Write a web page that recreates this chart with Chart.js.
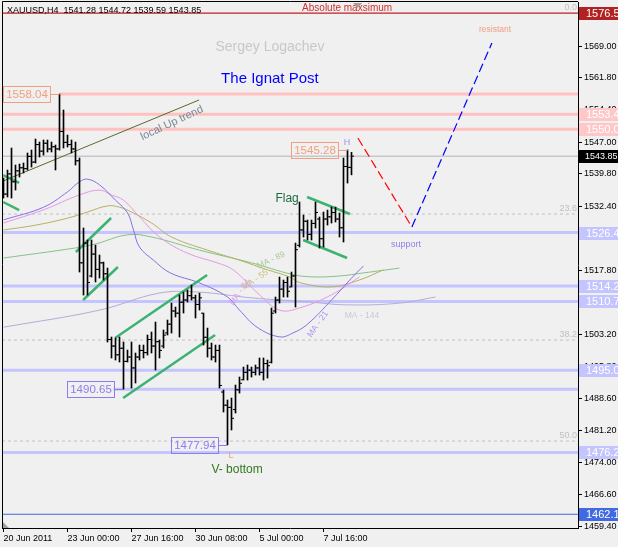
<!DOCTYPE html>
<html>
<head>
<meta charset="utf-8">
<script src="https://cdn.jsdelivr.net/npm/chart.js@4.4.1/dist/chart.umd.min.js"></script>
<style>
  html, body { margin: 0; padding: 0; background: #f0f0f0; overflow: hidden; }
</style>
</head>
<body>
<canvas id="chart" width="618" height="547"></canvas>
<script>
// XAUUSD H4 bars, one per 4 hours, index 0 = first visible bar
const barOpen = [
  1537.5, 1535.2, 1539.8, 1538.0, 1540.5, 1541.2, 1541.0, 1543.8, 1542.5, 1546.5,
  1545.0, 1546.8, 1545.5, 1546.0, 1545.5, 1549.5, 1547.0, 1546.5, 1545.5, 1542.8,
  1519.5, 1524.0, 1516.5, 1521.5, 1518.0, 1519.5, 1517.0, 1502.0, 1500.5, 1498.5,
  1500.0, 1497.0, 1498.0, 1495.5, 1498.0, 1499.5, 1499.0, 1502.0, 1500.5, 1501.5,
  1500.5, 1503.5, 1505.5, 1508.5, 1508.0, 1510.5, 1511.0, 1512.0, 1511.5, 1510.0,
  1508.0, 1502.5, 1500.0, 1498.0, 1499.5, 1490.0, 1487.0, 1486.5, 1486.0, 1490.5,
  1492.8, 1494.5, 1495.0, 1494.5, 1495.5, 1494.5, 1496.5, 1496.8, 1508.5, 1511.0,
  1513.5, 1515.0, 1514.0, 1516.5, 1523.5, 1527.0, 1529.0, 1526.0, 1528.5, 1529.5,
  1525.0, 1529.5, 1530.0, 1531.0, 1529.5, 1527.5, 1541.5, 1541.28
];
const barHigh = [
  1538.86, 1540.69, 1545.71, 1541.83, 1542.06, 1542.29, 1544.57, 1545.25, 1547.76, 1547.08,
  1547.54, 1547.54, 1547.08, 1546.40, 1558.04, 1554.39, 1548.68, 1547.54, 1547.08, 1543.43,
  1527.45, 1524.71, 1524.71, 1523.56, 1521.28, 1519.68, 1518.31, 1502.56, 1502.33, 1502.56,
  1501.42, 1499.59, 1501.42, 1498.91, 1500.73, 1500.73, 1503.02, 1503.70, 1505.98, 1501.87,
  1504.16, 1506.44, 1510.32, 1509.41, 1512.15, 1512.83, 1513.29, 1514.43, 1512.15, 1512.60,
  1508.04, 1504.61, 1501.19, 1500.73, 1500.73, 1490.46, 1488.18, 1488.63, 1491.60, 1493.43,
  1495.71, 1496.17, 1495.71, 1496.17, 1497.77, 1497.77, 1497.31, 1509.18, 1511.69, 1516.26,
  1515.57, 1516.26, 1517.40, 1524.02, 1533.38, 1530.41, 1529.27, 1529.27, 1533.38, 1529.96,
  1531.10, 1531.55, 1532.24, 1532.24, 1530.87, 1543.43, 1545.28, 1544.72
];
const barLow = [
  1534.29, 1534.52, 1534.29, 1536.12, 1539.09, 1540.00, 1540.69, 1541.37, 1542.29, 1543.66,
  1544.11, 1544.80, 1544.80, 1540.69, 1545.25, 1545.71, 1545.94, 1544.57, 1541.83, 1517.40,
  1512.15, 1512.15, 1516.26, 1515.12, 1516.03, 1515.57, 1501.42, 1497.77, 1497.31, 1496.85,
  1490.65, 1496.85, 1490.92, 1492.06, 1497.31, 1497.77, 1498.45, 1498.91, 1495.03, 1497.77,
  1500.05, 1503.02, 1503.47, 1507.13, 1502.56, 1508.04, 1510.55, 1511.01, 1506.90, 1508.72,
  1500.73, 1497.99, 1497.31, 1496.85, 1490.92, 1485.44, 1477.94, 1481.33, 1485.21, 1489.77,
  1492.74, 1492.74, 1493.43, 1493.88, 1493.88, 1492.74, 1493.20, 1496.62, 1508.04, 1510.32,
  1511.69, 1511.69, 1513.97, 1509.41, 1523.11, 1525.39, 1524.71, 1524.71, 1527.45, 1522.88,
  1523.11, 1528.13, 1528.59, 1528.82, 1525.39, 1524.25, 1537.72, 1539.59
];
const barClose = [
  1535.2, 1539.8, 1538.0, 1540.5, 1541.2, 1541.0, 1543.8, 1542.5, 1546.5, 1545.0,
  1546.8, 1545.5, 1546.0, 1545.5, 1549.5, 1547.0, 1546.5, 1545.5, 1542.8, 1519.5,
  1524.0, 1515.0, 1521.5, 1518.0, 1519.5, 1517.0, 1502.0, 1500.5, 1498.5, 1500.0,
  1497.0, 1498.0, 1495.5, 1498.0, 1499.5, 1499.0, 1502.0, 1500.5, 1501.5, 1499.5,
  1503.0, 1505.5, 1508.5, 1508.0, 1510.5, 1511.0, 1512.0, 1511.5, 1510.0, 1511.5,
  1502.5, 1500.0, 1498.0, 1499.5, 1491.5, 1487.0, 1486.5, 1484.0, 1490.5, 1492.0,
  1494.5, 1495.0, 1494.5, 1495.5, 1494.5, 1496.5, 1496.0, 1508.0, 1511.0, 1513.5,
  1515.0, 1513.0, 1516.5, 1522.5, 1527.0, 1529.0, 1526.0, 1528.5, 1531.0, 1525.0,
  1529.5, 1530.0, 1531.0, 1529.5, 1527.5, 1541.5, 1541.3, 1543.85
];

// time axis
const xTickIdx = [0, 16, 32, 48, 64, 80];
const xTickLabels = ['20 Jun 2011', '23 Jun 00:00', '27 Jun 16:00', '30 Jun 08:00', '5 Jul 00:00', '7 Jul 16:00'];
const xMin = -0.375, xMax = 143.625;

// price axis
const yTicks = [1569.00, 1561.80, 1554.40, 1547.00, 1539.80, 1532.40, 1525.20, 1517.80,
  1510.60, 1503.20, 1495.80, 1488.60, 1481.20, 1474.00, 1466.60, 1459.40];
const yMin = 1458.96, yMax = 1579.05;

// moving averages as [bar index, price]
const ma21 = [[0,1529.3],[10,1532.2],[16,1535.7],[19,1538.0],[21,1538.6],[24,1537.3],[28,1533.8],[31,1530.9],
  [32.5,1527.0],[34,1523.1],[37.5,1520.1],[41.7,1517.2],[49,1514.9],[56,1511.7],[59,1508.7],[63.4,1504.8],
  [69,1502.6],[72.4,1503.5],[76,1505.5],[82,1511.0],[87,1516.0],[90,1518.8]];
const ma34 = [[0,1528.6],[10,1531.6],[19,1535.0],[24,1536.1],[27,1535.0],[30,1533.8],[34,1530.0],[39,1525.4],
  [46,1521.7],[53.4,1519.5],[57.4,1517.9],[64,1512.2],[69,1508.7],[74,1509.2],[82,1512.2],[89,1516.3]];
const ma55 = [[0,1527.0],[8,1528.1],[16,1529.7],[21,1531.1],[26,1532.5],[29,1532.2],[32,1531.1],[37,1528.6],
  [42,1525.4],[51,1522.4],[59,1520.1],[66,1517.9],[71.5,1516.3],[74,1515.0],[82,1514.0],[89,1515.6],[95,1517.9]];
const ma89 = [[0,1520.6],[18,1522.9],[23,1523.8],[31,1525.9],[37,1525.4],[49,1522.4],[62,1519.5],[72,1516.9],
  [77,1516.3],[84,1516.5],[90,1517.2],[99,1518.3]];
const ma144 = [[0,1504.8],[24,1508.7],[39,1512.6],[49,1512.8],[62,1511.5],[76,1510.6],[86,1509.9],[99,1510.3],[108,1511.7]];

// horizontal levels
const maxLevel = 1576.5;
const pinkLevels = [1553.4, 1550.0];
const peakLevel = 1558.04, peakBar = 14;
const blueLevels = [1526.4, 1514.2, 1510.7, 1495.0, 1476.2];
const lowBoxLevel = 1490.65, lowBoxBar = 30;
const lastPrice = 1543.85;
const floorLevel = 1462.1;
const fibLevels = [1530.64, 1501.87, 1478.81];
const fibNames = ['23.6', '38.2', '50.0'];

// drawn trend lines [[i0, p0], [i1, p1]]
const upTrend = [[-0.1, 1538.18], [48.9, 1556.68]];
const greenLines = [
  [[-0.1, 1539.55], [3.9, 1537.73]],
  [[-0.1, 1533.39], [3.9, 1531.56]],
  [[18.1, 1521.97], [26.9, 1529.73]],
  [[19.9, 1511.01], [28.6, 1518.55]],
  [[27.9, 1502.34], [50.9, 1516.72]],
  [[29.9, 1488.64], [52.9, 1503.02]],
  [[75.9, 1534.53], [86.6, 1530.65]],
  [[74.9, 1524.71], [85.9, 1520.60]]
];
const forecastDown = [[88.6, 1548.0], [102.1, 1527.68]];
const forecastUp = [[102.1, 1527.68], [122.1, 1569.69]];

const pts = arr => arr.map(p => ({ x: p[0], y: p[1] }));
const FONT = 'Liberation Sans, Arial, sans-serif';

const lineSet = (data, color, width, extra) => Object.assign({
  type: 'line', data, borderColor: color, borderWidth: width, pointRadius: 0, fill: false, order: 4
}, extra || {});
const levelSet = (v, color, width, from, extra) =>
  lineSet([{ x: from, y: v }, { x: xMax, y: v }], color, width, Object.assign({ order: 6 }, extra || {}));

const datasets = [
  { type: 'bar', data: barHigh.map((h, i) => ({ x: i, y: [barLow[i], h] })),
    backgroundColor: '#000', borderWidth: 0, barThickness: 1, order: 1 },
  { type: 'line', showLine: false, data: barOpen.map((v, i) => ({ x: i - 0.375, y: v })),
    pointStyle: 'line', pointRadius: 1, pointBorderWidth: 1, pointBorderColor: '#000', order: 1 },
  { type: 'line', showLine: false, data: barClose.map((v, i) => ({ x: i + 0.375, y: v })),
    pointStyle: 'line', pointRadius: 1, pointBorderWidth: 1, pointBorderColor: '#000', order: 1 },
  lineSet(pts(ma21), '#8a6ee8', 1, { tension: 0.4 }),
  lineSet(pts(ma34), '#e49ae4', 1, { tension: 0.4 }),
  lineSet(pts(ma55), '#b8b060', 1, { tension: 0.4 }),
  lineSet(pts(ma89), '#86c286', 1, { tension: 0.4 }),
  lineSet(pts(ma144), '#b4acd8', 1, { tension: 0.4 }),
  lineSet(pts(upTrend), '#556b2f', 1, { order: 3 }),
  ...greenLines.map(g => lineSet(pts(g), '#3cb371', 2.5, { order: 3 })),
  lineSet(pts(forecastDown), '#ff0000', 1.2, { borderDash: [9, 4], order: 3 }),
  lineSet(pts(forecastUp), '#0000ff', 1.2, { borderDash: [9, 4], order: 3 }),
  levelSet(maxLevel, '#c02020', 1.2, xMin),
  levelSet(peakLevel, '#ffc0c0', 3, peakBar),
  ...pinkLevels.map(v => levelSet(v, '#ffc0c0', 3, xMin)),
  ...blueLevels.map(v => levelSet(v, '#c4c4ff', 3, xMin)),
  levelSet(lowBoxLevel, '#c4c4ff', 3, lowBoxBar - 2.5),
  levelSet(lastPrice, '#b4b4b4', 1, xMin),
  levelSet(floorLevel, '#4169e1', 1.2, xMin),
  ...fibLevels.map(v => levelSet(v, '#c0c0c0', 1, xMin, { borderDash: [3, 3] }))
];

const notes = [
  { t: 'Sergey Logachev', i: 66.6, v: 1568.8, c: '#c8c8c8', f: 14 },
  { t: 'The Ignat Post', i: 66.6, v: 1561.5, c: '#0000ff', f: 15 },
  { t: 'local Up trend', i: 42.1, v: 1551.4, c: '#7b8794', f: 11, r: -25 },
  { t: 'Flag', i: 70.9, v: 1534.1, c: '#1d6b41', f: 12 },
  { t: 'V- bottom', i: 58.4, v: 1472.2, c: '#317a1c', f: 12 },
  { t: 'support', i: 100.6, v: 1523.6, c: '#9080e8', f: 9 },
  { t: 'resistant', i: 122.9, v: 1572.7, c: '#f0a080', f: 8.5 },
  { t: 'H', i: 85.9, v: 1546.9, c: '#a090ff', f: 9 },
  { t: 'L', i: 56.9, v: 1475.6, c: '#f0a080', f: 9 },
  { t: 'MA - 89', i: 66.9, v: 1520.1, c: '#a8c898', f: 8.5, r: -25 },
  { t: 'MA - 55', i: 62.9, v: 1515.6, c: '#c8c078', f: 8.5, r: -35 },
  { t: 'MA - 34', i: 59.1, v: 1512.8, c: '#e0a0e8', f: 8.5, r: -55 },
  { t: 'MA - 21', i: 78.6, v: 1505.5, c: '#b098f0', f: 8.5, r: -55 },
  { t: 'MA - 144', i: 89.6, v: 1507.4, c: '#c8c8d8', f: 8.5 },
  { t: 'Absolute maxsimum', i: 85.9, v: 1577.7, c: '#d03030', f: 10 }
];

const priceBoxes = [
  { v: peakLevel, i: peakBar, c: '#f0a080' },
  { v: 1545.28, i: 86, c: '#f0a080' },
  { v: lowBoxLevel, i: lowBoxBar, c: '#8c7cf0' },
  { v: 1477.94, i: 56, c: '#8c7cf0' }
];

const axisBoxes = [
  { v: maxLevel, bg: '#b22222', f: 11 },
  { v: 1553.4, bg: '#ffc8c8', f: 11 },
  { v: 1550.0, bg: '#ffc8c8', f: 11 },
  { v: lastPrice, bg: '#000000', f: 9 },
  ...blueLevels.map(v => ({ v, bg: '#c4c4ff', f: 11 })),
  { v: floorLevel, bg: '#4169e1', f: 11 }
];

const noPad = s => { s.paddingTop = 0; s.paddingBottom = 0; s.paddingLeft = 0; s.paddingRight = 0; };

const decor = {
  id: 'decor',
  beforeDraw(chart) {
    const { ctx, width, height } = chart;
    ctx.save();
    ctx.fillStyle = '#f0f0f0';
    ctx.fillRect(0, 0, width, height);
    ctx.restore();
  },
  afterDatasetsDraw(chart) {
    const { ctx, chartArea: a, scales: { x, y } } = chart;
    ctx.save();
    ctx.beginPath();
    ctx.rect(a.left, a.top, a.right - a.left, a.bottom - a.top);
    ctx.clip();
    ctx.textAlign = 'center';
    ctx.textBaseline = 'middle';
    notes.forEach(n => {
      ctx.save();
      ctx.translate(x.getPixelForValue(n.i), y.getPixelForValue(n.v));
      if (n.r) ctx.rotate(n.r * Math.PI / 180);
      ctx.font = n.f + 'px ' + FONT;
      ctx.fillStyle = n.c;
      ctx.fillText(n.t, 0, 0);
      ctx.restore();
    });
    // price boxes with connector
    ctx.font = '11.5px ' + FONT;
    priceBoxes.forEach(b => {
      const px = x.getPixelForValue(b.i), py = Math.round(y.getPixelForValue(b.v)) + 0.5;
      const right = Math.round(px - 10) + 0.5, left = right - 47;
      ctx.strokeStyle = b.c;
      ctx.lineWidth = 1;
      ctx.strokeRect(left, py - 8, 47, 16);
      ctx.beginPath();
      ctx.moveTo(right, py);
      ctx.lineTo(px, py);
      ctx.stroke();
      ctx.fillStyle = b.c;
      ctx.fillText(b.v.toFixed(2), (left + right) / 2, py + 0.5);
    });
    // fibo labels
    ctx.font = '9px ' + FONT;
    ctx.fillStyle = '#c0c0c0';
    ctx.textAlign = 'right';
    [maxLevel, ...fibLevels].forEach((v, k) => {
      ctx.fillText(k === 0 ? '0.0' : fibNames[k - 1], a.right - 1, y.getPixelForValue(v) - 6);
    });
    ctx.restore();
  },
  afterDraw(chart) {
    const { ctx, chartArea: a, scales: { y } } = chart;
    ctx.save();
    // frame
    ctx.strokeStyle = '#000';
    ctx.lineWidth = 1;
    ctx.beginPath();
    ctx.moveTo(a.left + 0.5, a.bottom);
    ctx.lineTo(a.left + 0.5, a.top - 0.5);
    ctx.lineTo(a.right, a.top - 0.5);
    ctx.stroke();
    // shift markers
    ctx.fillStyle = '#a0a0a0';
    ctx.beginPath();
    ctx.moveTo(353, a.top + 1); ctx.lineTo(362, a.top + 1); ctx.lineTo(357.5, a.top + 6);
    ctx.fill();
    ctx.beginPath();
    ctx.moveTo(a.left + 1, a.bottom - 6); ctx.lineTo(a.left + 1, a.bottom); ctx.lineTo(a.left + 7, a.bottom);
    ctx.fill();
    // title
    ctx.font = '9px ' + FONT;
    ctx.fillStyle = '#000';
    ctx.textBaseline = 'middle';
    ctx.textAlign = 'left';
    ctx.fillText('XAUUSD,H4  ' + [barOpen[87], barHigh[87], barLow[87], barClose[87]].map(v => v.toFixed(2)).join(' '), a.left + 5, a.top + 9);
    // price tags on the axis
    axisBoxes.forEach(b => {
      const py = Math.round(y.getPixelForValue(b.v));
      ctx.fillStyle = b.bg;
      ctx.fillRect(a.right + 1, py - 6, 40, 13);
      ctx.fillStyle = '#fff';
      ctx.font = b.f + 'px ' + FONT;
      ctx.fillText(b.v.toFixed(2), a.right + (b.f > 10 ? 8 : 7), py + 1);
    });
    ctx.restore();
  }
};

new Chart(document.getElementById('chart'), {
  type: 'bar',
  data: { datasets },
  options: {
    responsive: false,
    animation: false,
    devicePixelRatio: 1,
    layout: { autoPadding: false, padding: { left: 2, top: 2, right: 0, bottom: 0 } },
    plugins: { legend: { display: false }, tooltip: { enabled: false } },
    scales: {
      x: {
        type: 'linear', min: xMin, max: xMax, offset: false,
        afterFit(s) { s.height = 19; noPad(s); },
        afterBuildTicks(s) { s.ticks = xTickIdx.map(v => ({ value: v })); },
        ticks: { callback: (v, k) => xTickLabels[k], align: 'start', color: '#000',
          font: { family: FONT, size: 9 }, padding: 1, maxRotation: 0, autoSkip: false },
        grid: { drawOnChartArea: false, tickLength: 4, color: '#000', offset: false },
        border: { color: '#000' }
      },
      y: {
        position: 'right', min: yMin, max: yMax,
        afterFit(s) { s.width = 40; noPad(s); },
        afterBuildTicks(s) { s.ticks = yTicks.map(v => ({ value: v })); },
        ticks: { callback: v => v.toFixed(2), color: '#000', font: { family: FONT, size: 9 }, padding: 2, autoSkip: false },
        grid: { drawOnChartArea: false, tickLength: 4, color: '#000' },
        border: { color: '#000' }
      }
    }
  },
  plugins: [decor]
});
</script>
</body>
</html>
